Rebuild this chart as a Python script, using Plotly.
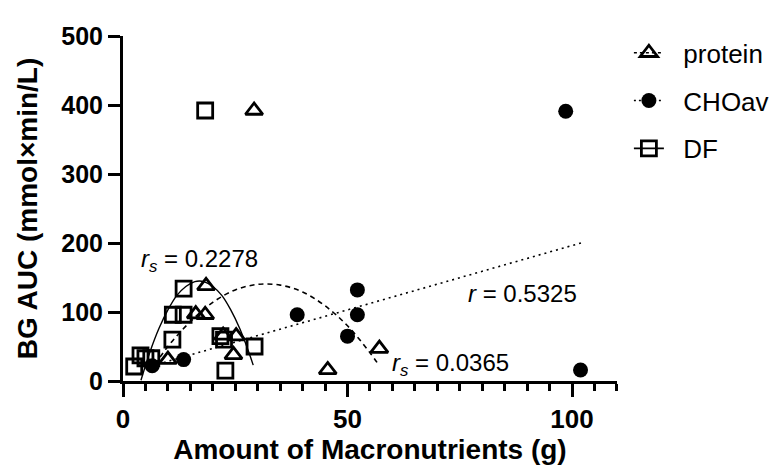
import plotly.graph_objects as go

# ---- data ----
protein_x = [10.0, 18.5, 16.2, 18.3, 22.3, 25.2, 24.6, 45.6, 57.1, 29.2]
protein_y = [31, 138, 97, 96, 66, 65, 38, 16, 47, 392]

cho_x = [6.5, 13.5, 38.8, 52.2, 52.2, 50.0, 98.6, 101.9]
cho_y = [22, 31, 96, 132, 96, 65, 391, 16]

df_x = [2.5, 3.9, 5.0, 6.3, 11.0, 11.1, 13.5, 13.5, 21.7, 22.5, 22.8, 29.3, 18.3]
df_y = [21, 37, 33, 33, 60, 96, 96, 134, 65, 60, 15, 50, 392]

# fitted curves
protein_fit_x = [6, 10, 15, 20, 25, 30, 35, 40, 45, 50, 55, 57]
protein_fit_y = [13, 50, 86, 114, 132, 140, 139, 129, 109, 80, 41, 23]

df_fit_x = [4, 6, 8, 10, 12, 14, 16, 18, 20, 22, 24, 26, 28, 29]
df_fit_y = [1, 42, 76, 103, 124, 137, 144, 144, 137, 124, 103, 76, 42, 23]

cho_fit_x = [6.5, 102]
cho_fit_y = [22, 200]

x_ticks = [0, 50, 100]
y_ticks = [0, 100, 200, 300, 400, 500]

series_names = ["protein", "CHOav", "DF"]

FONT = "Liberation Sans, Arial, sans-serif"
PAD = "\u00a0\u00a0"

fig = go.Figure()

# fit lines
fig.add_trace(go.Scatter(x=protein_fit_x, y=protein_fit_y, mode="lines", line_shape="spline",
                         line=dict(color="black", width=1.6, dash="5px,4px"), showlegend=False))
fig.add_trace(go.Scatter(x=df_fit_x, y=df_fit_y, mode="lines", line_shape="spline",
                         line=dict(color="black", width=1.4), showlegend=False))
fig.add_trace(go.Scatter(x=cho_fit_x, y=cho_fit_y, mode="lines",
                         line=dict(color="black", width=1.6, dash="2px,4px"), showlegend=False))

# points
fig.add_trace(go.Scatter(x=df_x, y=df_y, mode="markers", cliponaxis=False, showlegend=False,
                         marker=dict(symbol="square-open", size=15, color="black", line=dict(width=2.8))))
fig.add_trace(go.Scatter(x=protein_x, y=protein_y, mode="markers", cliponaxis=False, showlegend=False,
                         marker=dict(symbol="triangle-up-open", size=15, color="black", line=dict(width=2.8))))
fig.add_trace(go.Scatter(x=cho_x, y=cho_y, mode="markers", cliponaxis=False, showlegend=False,
                         marker=dict(symbol="circle", size=15, color="black", line=dict(width=0))))

# legend entries
fig.add_trace(go.Scatter(x=[None], y=[None], mode="lines+markers", name=PAD + series_names[0], legendgroup="a",
                         line=dict(color="black", width=1.6, dash="3px,3px"),
                         marker=dict(symbol="triangle-up-open", size=15, color="black", line=dict(width=2.8))))
fig.add_trace(go.Scatter(x=[None], y=[None], mode="lines+markers", name=PAD + series_names[1], legendgroup="b",
                         line=dict(color="black", width=1.6, dash="2px,3px"),
                         marker=dict(symbol="circle", size=15, color="black")))
fig.add_trace(go.Scatter(x=[None], y=[None], mode="lines+markers", name=PAD + series_names[2], legendgroup="c",
                         line=dict(color="black", width=1.6),
                         marker=dict(symbol="square-open", size=15, color="black", line=dict(width=2.8))))

ann_font = dict(family=FONT, size=24, color="black")
fig.add_annotation(x=3.6, y=174, xref="x", yref="y", text="<i>r</i><sub><i>s</i></sub> = 0.2278",
                   showarrow=False, xanchor="left", yanchor="middle", font=ann_font)
fig.add_annotation(x=76.5, y=127, xref="x", yref="y", text="<i>r</i> = 0.5325",
                   showarrow=False, xanchor="left", yanchor="middle", font=ann_font)
fig.add_annotation(x=59.4, y=24, xref="x", yref="y", text="<i>r</i><sub><i>s</i></sub> = 0.0365",
                   showarrow=False, xanchor="left", yanchor="middle", font=ann_font)

fig.update_layout(
    width=781, height=474,
    margin=dict(l=115, r=157, t=28, b=101),
    plot_bgcolor="white", paper_bgcolor="white",
    font=dict(family=FONT, color="black"),
    legend=dict(xref="container", yref="container", x=0.795, y=0.955, xanchor="left", yanchor="top",
                font=dict(family=FONT, size=26, color="black"), tracegroupgap=11,
                bgcolor="rgba(0,0,0,0)"),
    xaxis=dict(range=[0, 110], tickvals=x_ticks, ticktext=[str(v) for v in x_ticks],
               showgrid=False, zeroline=False, showline=True, linecolor="black", linewidth=3,
               ticks="outside", ticklen=13, tickwidth=3, tickcolor="black",
               minor=dict(dtick=5, tick0=0, ticks="outside", ticklen=7, tickwidth=2.5, tickcolor="black", showgrid=False),
               tickfont=dict(family=FONT, size=26, weight="bold"),
               title=dict(text="Amount of Macronutrients (g)", font=dict(family=FONT, size=28, weight="bold"), standoff=6)),
    yaxis=dict(range=[0, 500], tickvals=y_ticks, ticktext=[str(v) for v in y_ticks],
               showgrid=False, zeroline=False, showline=True, linecolor="black", linewidth=3,
               ticks="outside", ticklen=12, tickwidth=3, tickcolor="black",
               tickfont=dict(family=FONT, size=25, weight="bold"),
               title=dict(text="BG AUC (mmol×min/L)", font=dict(family=FONT, size=28, weight="bold"), standoff=16)),
)

fig.write_html("out.html")
